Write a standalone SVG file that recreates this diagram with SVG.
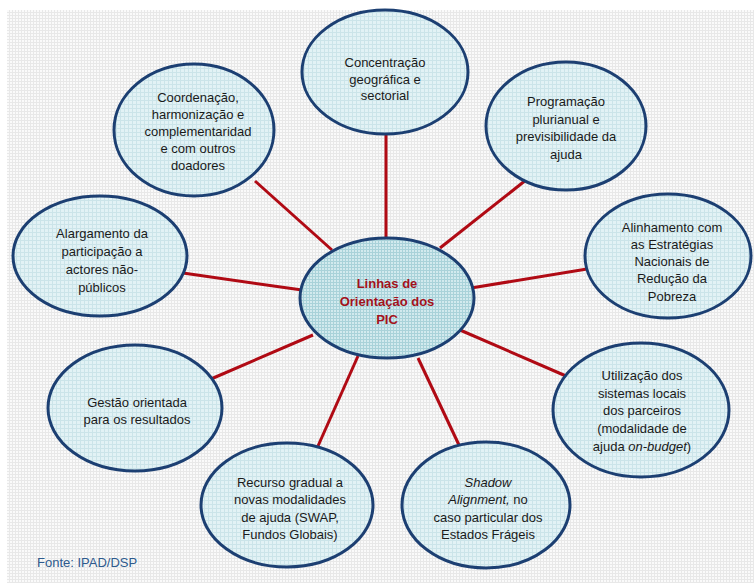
<svg xmlns="http://www.w3.org/2000/svg" width="754" height="585" viewBox="0 0 754 585">
<defs>
<pattern id="bg" width="3" height="3" patternUnits="userSpaceOnUse">
<rect width="3" height="3" fill="#FAFAFA"/>
<rect width="3" height="1" fill="#E8E8E8"/>
<rect width="1" height="3" fill="#E8E8E8"/>
</pattern>
<pattern id="nodeFill" width="4" height="4" patternUnits="userSpaceOnUse">
<rect width="4" height="4" fill="#E2F2F5"/>
<rect width="4" height="1" fill="#CBE4E9"/>
<rect width="1" height="4" fill="#CBE4E9"/>
</pattern>
<pattern id="centerFill" width="3" height="3" patternUnits="userSpaceOnUse">
<rect width="3" height="3" fill="#D2EAEE"/>
<rect width="3" height="1" fill="#A9D2D9"/>
<rect width="1" height="3" fill="#A9D2D9"/>
</pattern>
</defs>
<style>
.n{fill:url(#nodeFill);stroke:#1C3F72;stroke-width:3}
.c{fill:url(#centerFill);stroke:#1C3F72;stroke-width:3}
.t{font-family:"Liberation Sans",Arial,sans-serif;font-size:13px;fill:#1A1A1A;text-anchor:middle}
.ct{font-family:"Liberation Sans",Arial,sans-serif;font-size:13px;font-weight:bold;fill:#A3121C;text-anchor:middle}
.i{font-style:italic}
.e{stroke:#B00A14;stroke-width:3;fill:none}
</style>
<rect x="7" y="10" width="747" height="573" fill="url(#bg)"/>
<g id="connectors">
<line class="e" x1="386" y1="134" x2="386" y2="239"/>
<line class="e" x1="255" y1="181" x2="332" y2="250"/>
<line class="e" x1="526" y1="180" x2="440" y2="248"/>
<line class="e" x1="587" y1="269" x2="471" y2="288"/>
<line class="e" x1="183" y1="273" x2="302" y2="290"/>
<line class="e" x1="211" y1="379" x2="313" y2="335"/>
<line class="e" x1="566" y1="376" x2="460" y2="330"/>
<line class="e" x1="318" y1="446" x2="358" y2="356"/>
<line class="e" x1="459" y1="445" x2="418" y2="358"/>
</g>
<g id="center">
<ellipse class="c" cx="387" cy="298" rx="87" ry="60"/>
<text class="ct" x="387" y="288">Linhas de</text>
<text class="ct" x="387" y="306">Orientação dos</text>
<text class="ct" x="387" y="324">PIC</text>
</g>
<g id="concentracao">
<ellipse class="n" cx="385" cy="72" rx="83" ry="62"/>
<text class="t" x="385" y="67">Concentração</text>
<text class="t" x="385" y="84">geográfica e</text>
<text class="t" x="385" y="100">sectorial</text>
</g>
<g id="coordenacao">
<ellipse class="n" cx="194" cy="130" rx="80" ry="66"/>
<text class="t" x="198" y="102">Coordenação,</text>
<text class="t" x="198" y="119">harmonização e</text>
<text class="t" x="198" y="136">complementaridad</text>
<text class="t" x="198" y="153">e com outros</text>
<text class="t" x="198" y="170">doadores</text>
</g>
<g id="programacao">
<ellipse class="n" cx="566" cy="126" rx="80" ry="64"/>
<text class="t" x="566" y="106">Programação</text>
<text class="t" x="566" y="124">plurianual e</text>
<text class="t" x="566" y="141">previsibilidade da</text>
<text class="t" x="566" y="159">ajuda</text>
</g>
<g id="alinhamento">
<ellipse class="n" cx="668" cy="256" rx="83" ry="62"/>
<text class="t" x="672" y="232">Alinhamento com</text>
<text class="t" x="672" y="249">as Estratégias</text>
<text class="t" x="672" y="266">Nacionais de</text>
<text class="t" x="672" y="283">Redução da</text>
<text class="t" x="672" y="301">Pobreza</text>
</g>
<g id="alargamento">
<ellipse class="n" cx="100" cy="256" rx="87" ry="60"/>
<text class="t" x="102" y="238">Alargamento da</text>
<text class="t" x="102" y="256">participação a</text>
<text class="t" x="102" y="274">actores não-</text>
<text class="t" x="102" y="292">públicos</text>
</g>
<g id="gestao">
<ellipse class="n" cx="135" cy="408" rx="87" ry="63"/>
<text class="t" x="137" y="407">Gestão orientada</text>
<text class="t" x="137" y="424">para os resultados</text>
</g>
<g id="utilizacao">
<ellipse class="n" cx="641" cy="410" rx="88" ry="67"/>
<text class="t" x="642" y="380">Utilização dos</text>
<text class="t" x="642" y="398">sistemas locais</text>
<text class="t" x="642" y="415">dos parceiros</text>
<text class="t" x="642" y="433">(modalidade de</text>
<text class="t" x="642" y="451">ajuda <tspan class="i">on-budget</tspan>)</text>
</g>
<g id="recurso">
<ellipse class="n" cx="287" cy="505" rx="86" ry="62"/>
<text class="t" x="290" y="487">Recurso gradual a</text>
<text class="t" x="290" y="504">novas modalidades</text>
<text class="t" x="290" y="522">de ajuda (SWAP,</text>
<text class="t" x="290" y="539">Fundos Globais)</text>
</g>
<g id="shadow">
<ellipse class="n" cx="486" cy="505" rx="84" ry="63"/>
<text class="t" x="488" y="487"><tspan class="i">Shadow</tspan></text>
<text class="t" x="488" y="504"><tspan class="i">Alignment,</tspan> no</text>
<text class="t" x="488" y="522">caso particular dos</text>
<text class="t" x="488" y="539">Estados Frágeis</text>
</g>
<text x="37" y="567" font-family="Liberation Sans, Arial, sans-serif" font-size="13" fill="#2E5A8E">Fonte: IPAD/DSP</text>
</svg>
